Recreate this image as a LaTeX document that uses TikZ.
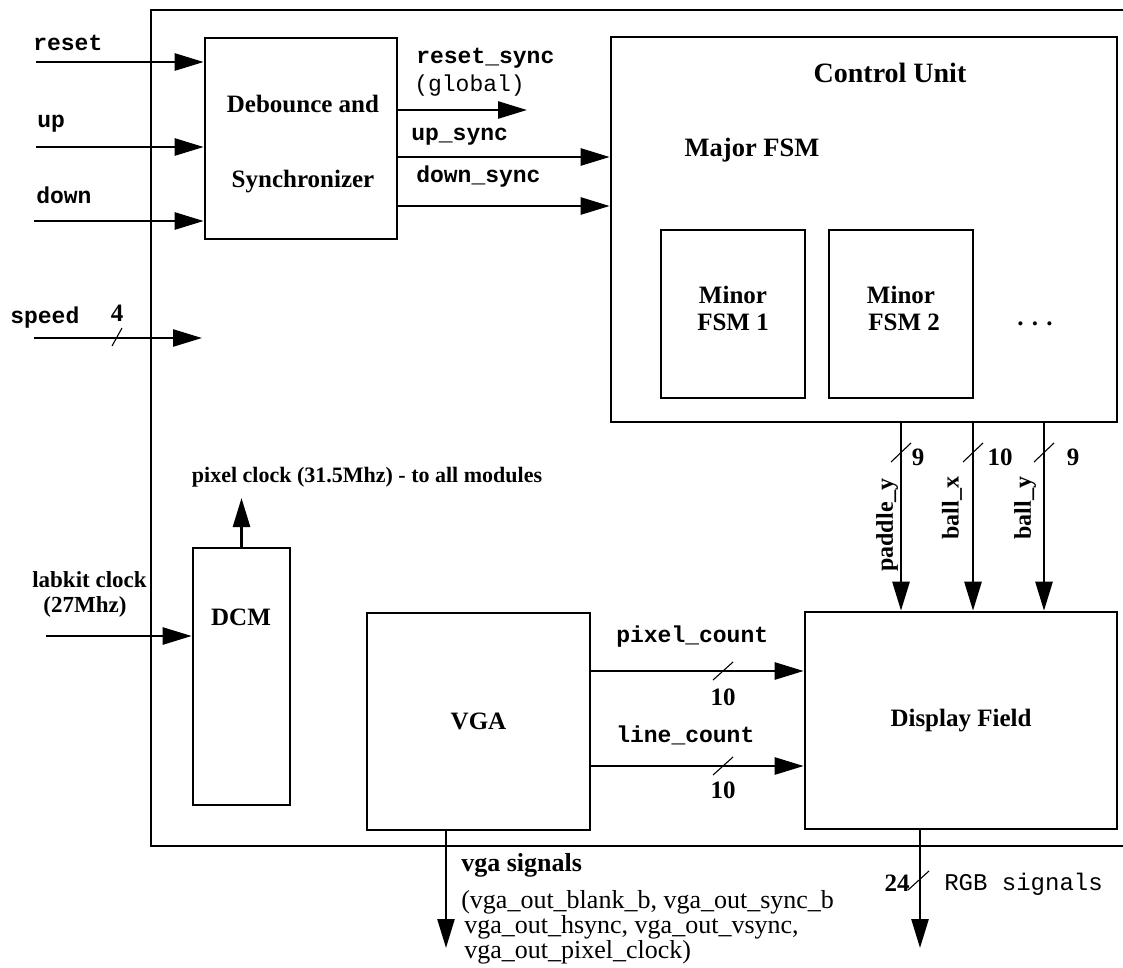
\documentclass[tikz,border=0pt]{standalone}
\usepackage{fontspec}
\setmainfont{Liberation Serif}
\setmonofont{Liberation Mono}
\usetikzlibrary{arrows.meta}
\begin{document}
\begin{tikzpicture}[x=1pt,y=-1pt,
  line width=2.6pt,
  blk/.style={draw, line width=2.6pt, inner sep=0pt, align=center, font=\fontsize{25}{28}\selectfont\bfseries},
  arr/.style={-{Triangle[length=29pt,width=17pt]}},
  sig/.style={font=\fontsize{23}{26}\selectfont\ttfamily\bfseries, inner sep=0pt, anchor=base west},
  sigr/.style={font=\fontsize{23}{26}\selectfont\ttfamily, inner sep=0pt, anchor=base west},
  lbl/.style={font=\fontsize{25}{27}\selectfont\bfseries, inner sep=0pt, align=center},
  slbl/.style={font=\fontsize{23}{27}\selectfont\bfseries, inner sep=0pt, align=center},
  txt/.style={font=\fontsize{26}{26}\selectfont, inner sep=0pt, anchor=west},
  bus/.style={line width=1.1pt},
]
\useasboundingbox (0,0) rectangle (1123,967);
% outer frame
\draw (1123,10) -- (151,10) -- (151,846) -- (1123,846);

% blocks
\node[blk, minimum width=192pt, minimum height=201pt] (deb) at (301,138.5) {};
\node[lbl] (debt) at (303,144) {Debounce and\\[48pt]Synchronizer};
\node[blk, minimum width=506pt, minimum height=385pt] (cu) at (864,229.5) {};
\node[lbl, font=\fontsize{28}{30}\selectfont\bfseries] (cut) at (890,73) {Control Unit};
\node[lbl, font=\fontsize{26.5}{30}\selectfont\bfseries] (maj) at (752,150) {Major FSM};
\node[blk, minimum width=144pt, minimum height=168pt] (m1) at (733,314) {};
\node[lbl] (m1t) at (733,308) {Minor\\FSM 1};
\node[blk, minimum width=144pt, minimum height=168pt] (m2) at (901,314) {};
\node[lbl] (m2t) at (901,308) {Minor\\\ FSM 2};
\node[lbl] (dots) at (1035,324) {.\,\,.\,\,.};
\node[blk, minimum width=312pt, minimum height=217pt] (df) at (961,720.5) {Display Field};
\node[blk, minimum width=223pt, minimum height=217pt] (vga) at (478.5,721.5) {VGA};
\node[blk, minimum width=97pt, minimum height=257pt] (dcm) at (241.5,676.5) {};
\node[lbl] (dcmt) at (241,617) {DCM};

% inputs
\coordinate (rin) at (36,62);
\coordinate (uin) at (36,147);
\coordinate (din) at (34,221);
\draw[arr] (rin) -- (rin -| deb.west);
\draw[arr] (uin) -- (uin -| deb.west);
\draw[arr] (din) -- (din -| deb.west);
\node[sig] (lreset) at (32,50) {reset};
\node[sig] (lup) at (36,127) {up};
\node[sig] (ldown) at (35,203) {down};

\coordinate (sin) at (34,338);
\coordinate (sout) at (202,338);
\draw[arr] (sin) -- (sout);
\draw[bus] (112,346) -- (122,328);
\node[sig] (lspeed) at (9,323) {speed};
\node[lbl] (n4) at (117,313) {4};

% debounce outputs
\coordinate (rs) at (527,110);
\draw[arr] (deb.east |- rs) -- (rs);
\draw[arr] (deb.east |- 0,157) -- (cu.west |- 0,157);
\draw[arr] (deb.east |- 0,206) -- (cu.west |- 0,206);
\node[sig] (lrs) at (415,63) {reset\_sync};
\node[sigr] (lglob) at (413,91) {(global)};
\node[sig] (lus) at (410,140) {up\_sync};
\node[sig] (lds) at (415,182) {down\_sync};

% control unit outputs
\foreach \x in {901,973,1044}{
  \draw[arr] (cu.south -| \x,0) -- (df.north -| \x,0);
  \draw[bus] (\x-10,462) -- (\x+10,443);
}
\node[lbl] (n9a) at (918,457) {9};
\node[lbl] (n10a) at (1000,457) {10};
\node[lbl] (n9b) at (1073,457) {9};
\node[slbl, font=\fontsize{24}{27}\selectfont\bfseries, rotate=90] (lpy) at (887,525) {paddle\_y};
\node[slbl, font=\fontsize{24}{27}\selectfont\bfseries, rotate=90] (lbx) at (952,508) {ball\_x};
\node[slbl, font=\fontsize{24}{27}\selectfont\bfseries, rotate=90] (lby) at (1025,508) {ball\_y};

% VGA to display
\draw[arr] (vga.east |- 0,671) -- (df.west |- 0,671);
\draw[arr] (vga.east |- 0,766) -- (df.west |- 0,766);
\draw[bus] (713,680) -- (733,662);
\draw[bus] (713,775) -- (733,757);
\node[sig] (lpc) at (615,642) {pixel\_count};
\node[sig] (llc) at (615,742) {line\_count};
\node[lbl] (n10b) at (723,697) {10};
\node[lbl] (n10c) at (723,790) {10};

% DCM
\coordinate (lk) at (46,636);
\draw[arr] (lk) -- (lk -| dcm.west);
\coordinate (pc) at (241.5,498);
\draw[arr] (dcm.north) -- (pc);
\node[slbl, font=\fontsize{22}{27}\selectfont\bfseries] (lpcl) at (367,477) {pixel clock (31.5Mhz) - to all modules};
\node[slbl] (llk1) at (89.5,580) {labkit clock};
\node[slbl] (llk2) at (85,607) {(27Mhz)};

% outputs
\coordinate (vo) at (446,948);
\draw[arr] (vga.south -| vo) -- (vo);
\node[lbl, font=\fontsize{26}{27}\selectfont\bfseries, anchor=west] (lvs) at (460,865) {vga signals};
\node[txt] (lv1) at (460,902) {(vga\_out\_blank\_b, vga\_out\_sync\_b};
\node[txt] (lv2) at (463,927) {vga\_out\_hsync, vga\_out\_vsync,};
\node[txt] (lv3) at (463,952) {vga\_out\_pixel\_clock)};

\coordinate (ro) at (920,948);
\draw[arr] (df.south -| ro) -- (ro);
\draw[bus] (908,890) -- (929,871);
\node[lbl] (n24) at (897,883) {24};
\node[sigr, font=\fontsize{24}{26}\selectfont\ttfamily] (lrgb) at (943,890) {RGB signals};
\end{tikzpicture}
\end{document}
